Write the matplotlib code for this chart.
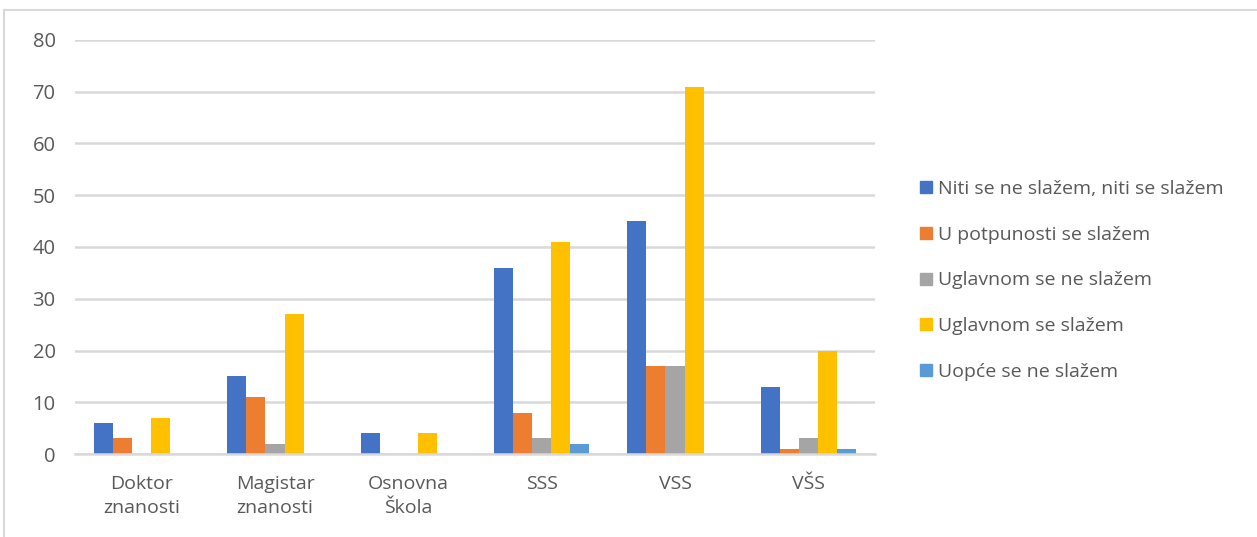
import numpy as np
import matplotlib
matplotlib.use("Agg")
import matplotlib.pyplot as plt
from matplotlib.lines import Line2D

categories = ["Doktor\nznanosti", "Magistar\nznanosti", "Osnovna\nŠkola", "SSS", "VSS", "VŠS"]
series_names = [
    "Niti se ne slažem, niti se slažem",
    "U potpunosti se slažem",
    "Uglavnom se ne slažem",
    "Uglavnom se slažem",
    "Uopće se ne slažem",
]
niti = [6, 15, 4, 36, 45, 13]
potpuno = [3, 11, 0, 8, 17, 1]
uglavnom_ne = [0, 2, 0, 3, 17, 3]
uglavnom_da = [7, 27, 4, 41, 71, 20]
uopce = [0, 0, 0, 2, 0, 1]
colors = ["#4472C4", "#ED7D31", "#A5A5A5", "#FFC000", "#5B9BD5"]

plt.rcParams['font.family'] = ['Open Sans', 'DejaVu Sans']

fig = plt.figure(figsize=(12.57, 5.37), dpi=100)
ax = fig.add_axes([75 / 1257, 83 / 537, 800 / 1257, 414 / 537])

x = np.arange(len(categories))
w = 0.143
all_series = [niti, potpuno, uglavnom_ne, uglavnom_da, uopce]
for i, (vals, col, name) in enumerate(zip(all_series, colors, series_names)):
    ax.bar(x + (i - 2) * w, vals, width=w, color=col, label=name, zorder=3)

ax.set_xlim(-0.5, len(categories) - 0.5)
ax.set_ylim(0, 80)
ax.set_yticks(range(0, 81, 10))
ax.yaxis.grid(True, color="#D9D9D9", linewidth=1.8, zorder=0)
for s in ["top", "right", "left"]:
    ax.spines[s].set_visible(False)
ax.spines["bottom"].set_color("#D9D9D9")
ax.spines["bottom"].set_linewidth(1.8)
ax.spines["bottom"].set_zorder(4)
ax.tick_params(axis="both", length=0, colors="#595959", labelsize=14)
ax.tick_params(axis="y", labelsize=14.5, pad=14)
ax.tick_params(axis="x", pad=15)
ax.set_xticks(x)
ax.set_xticklabels(categories, linespacing=1.45)

handles = [Line2D([], [], marker="s", linestyle="none", markersize=9,
                  markerfacecolor=c, markeredgecolor=c) for c in colors]
fig.legend(handles, series_names, loc="center left", bbox_to_anchor=(902 / 1257, 0.478),
           frameon=False, fontsize=14, labelcolor="#595959", handlelength=0.7,
           handletextpad=0.25, labelspacing=1.42)

# chart frame (top and left edges visible)
fig.add_artist(Line2D([4 / 1257, 1.0], [1 - 10 / 537, 1 - 10 / 537], color="#D9D9D9", linewidth=1.5))
fig.add_artist(Line2D([4 / 1257, 4 / 1257], [0.0, 1 - 10 / 537], color="#D9D9D9", linewidth=1.5))

fig.savefig("out.png", dpi=100)
